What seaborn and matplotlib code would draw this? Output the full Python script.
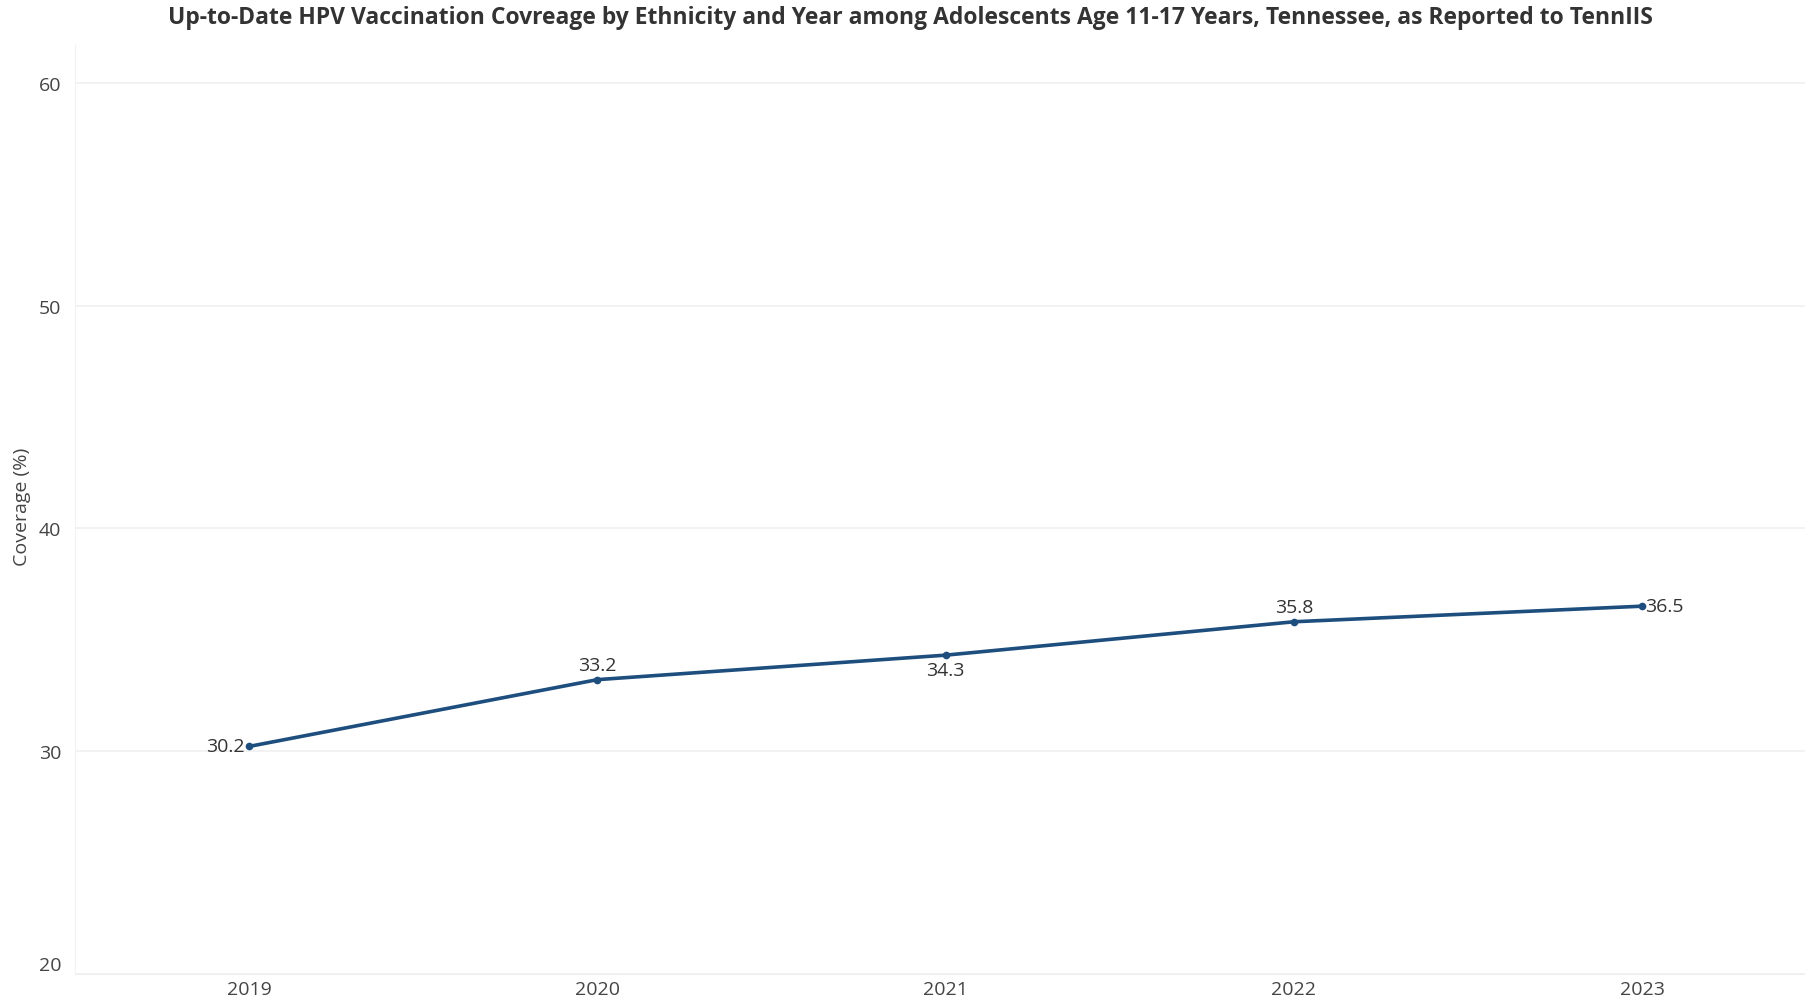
import matplotlib
matplotlib.use("Agg")
import matplotlib.pyplot as plt
import seaborn as sns
import pandas as pd

years = [2019, 2020, 2021, 2022, 2023]
coverage = [30.2, 33.2, 34.3, 35.8, 36.5]
label_pos = ["left", "above", "below", "above", "right"]
y_ticks = [20, 30, 40, 50, 60]
title = "Up-to-Date HPV Vaccination Covreage by Ethnicity and Year among Adolescents Age 11-17 Years, Tennessee, as Reported to TennIIS"

df = pd.DataFrame({"Year": years, "Coverage": coverage})

sns.set_style("white")
plt.rcParams["font.family"] = ["Open Sans", "DejaVu Sans"]

fig = plt.figure(figsize=(18.06, 10.03), dpi=100)
ax = fig.add_axes([0.0415, 0.0284, 0.9585, 0.9256])

line_color = "#1d4e7e"
sns.lineplot(data=df, x="Year", y="Coverage", ax=ax, color=line_color,
             linewidth=2.6, marker="o", markersize=5.5, markeredgewidth=0)

fs = 14
for x, y, pos in zip(years, coverage, label_pos):
    txt = f"{y:.1f}"
    if pos == "left":
        ax.annotate(txt, (x, y), xytext=(-3, 0), textcoords="offset points",
                    ha="right", va="center", fontsize=fs, color="#333333")
    elif pos == "right":
        ax.annotate(txt, (x, y), xytext=(2, 0), textcoords="offset points",
                    ha="left", va="center", fontsize=fs, color="#333333")
    elif pos == "above":
        ax.annotate(txt, (x, y), xytext=(0, 4), textcoords="offset points",
                    ha="center", va="bottom", fontsize=fs, color="#333333")
    else:
        ax.annotate(txt, (x, y), xytext=(0, -4), textcoords="offset points",
                    ha="center", va="top", fontsize=fs, color="#333333")

ax.set_xlim(2018.5, 2023.47)
ax.set_ylim(20, 61.7)
ax.set_xticks(years)
ax.set_xticklabels([str(y) for y in years])
ax.set_yticks(y_ticks)
ax.set_yticklabels([str(t) for t in y_ticks])
ax.tick_params(axis="both", length=0, labelsize=fs, labelcolor="#444444")
ax.tick_params(axis="x", pad=5)
ax.tick_params(axis="y", pad=10)
ax.get_yticklabels()[0].set_va("bottom")
ax.yaxis.grid(True, color="#f0f0f0", linewidth=1.2)
ax.xaxis.grid(False)
for side in ["top", "right"]:
    ax.spines[side].set_visible(False)
ax.spines["left"].set_color("#f2f2f2")
ax.spines["bottom"].set_color("#f0f0f0")
ax.set_xlabel("")
ax.set_ylabel("Coverage (%)", fontsize=fs, color="#444444")
ax.yaxis.set_label_coords(-0.0255, 0.504)

fig.text(0.504, 0.982, title, ha="center", va="center",
         fontsize=16.5, fontweight="bold", color="#333333")

fig.savefig("out.png", dpi=100, facecolor="white")
